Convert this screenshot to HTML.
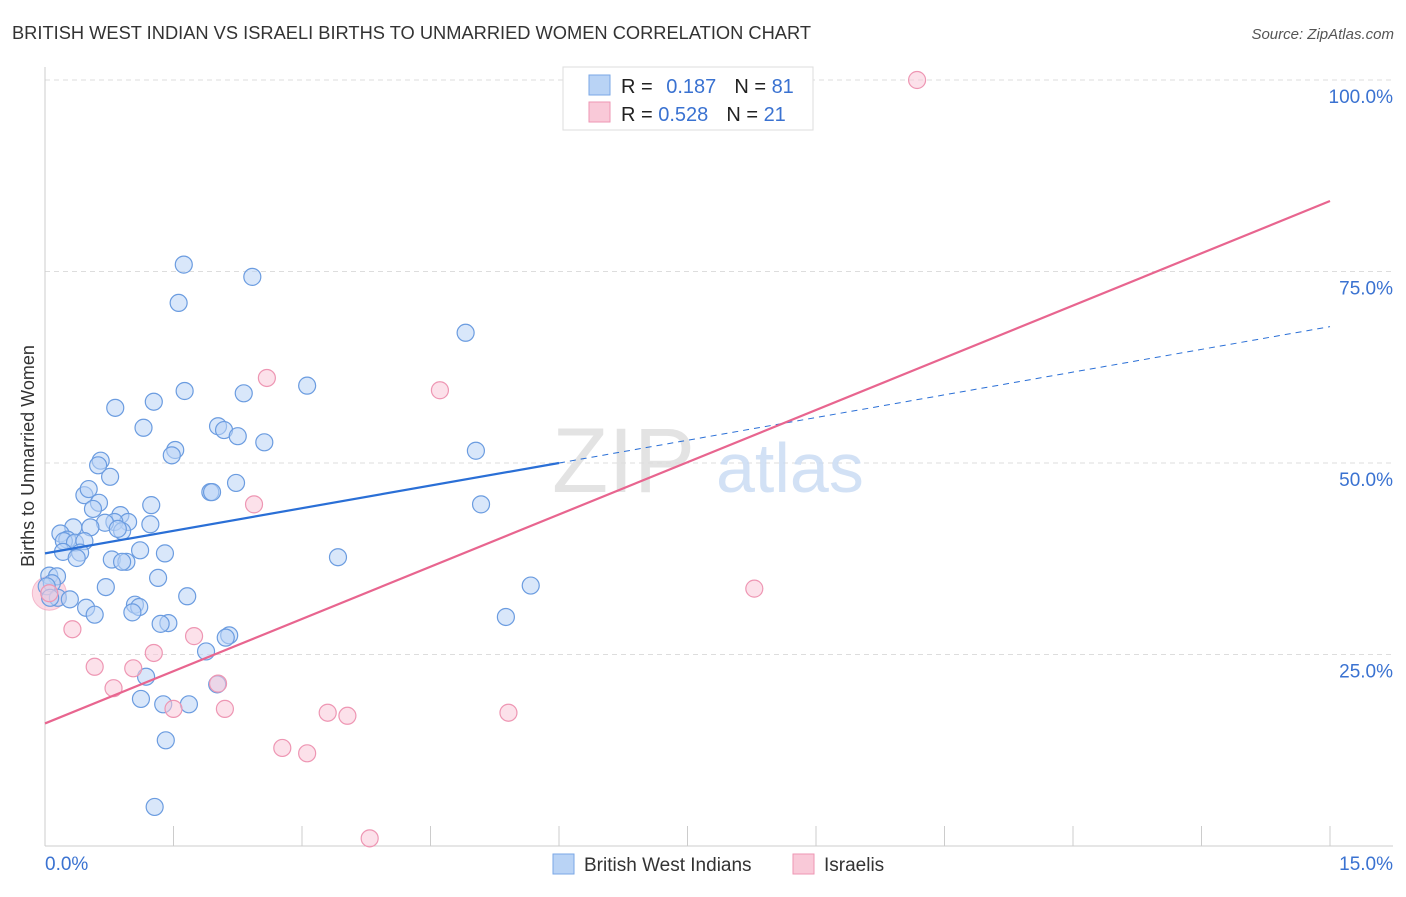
<!DOCTYPE html>
<html><head><meta charset="utf-8"><style>
body{margin:0;background:#fff;font-family:"Liberation Sans",sans-serif;}
svg text{font-family:"Liberation Sans",sans-serif;}
</style></head><body>
<svg id="chart" width="1406" height="892" xmlns="http://www.w3.org/2000/svg">
<text x="12" y="39" font-size="18.3" fill="#333" textLength="799" lengthAdjust="spacingAndGlyphs">BRITISH WEST INDIAN VS ISRAELI BIRTHS TO UNMARRIED WOMEN CORRELATION CHART</text>
<text x="1394" y="39" font-size="15" fill="#555" font-style="italic" text-anchor="end">Source: ZipAtlas.com</text>
<text transform="translate(34,456) rotate(-90)" font-size="18" fill="#333" text-anchor="middle">Births to Unmarried Women</text>
<g id="grid"></g>
<text x="552" y="492" font-size="92" fill="#ddd" font-family="Liberation Serif" opacity="0.8">ZIP</text>
<text x="716" y="492" font-size="70" fill="#c8daf3" opacity="0.8">atlas</text>
<g id="points"></g>
<g id="lines"></g>
<g>
<rect x="563" y="67" width="250" height="63" fill="#fff" stroke="#ddd"/>
<rect x="589" y="75" width="21" height="20" fill="#b9d3f5" stroke="#7aa7e6"/>
<rect x="589" y="102" width="21" height="20" fill="#f9c9d8" stroke="#ee96b3"/>
<text x="621" y="93" font-size="20" fill="#222">R = <tspan fill="#3a72d1" dx="8">0.187</tspan><tspan fill="#222" dx="18">N = </tspan><tspan fill="#3a72d1">81</tspan></text>
<text x="621" y="121" font-size="20" fill="#222">R = <tspan fill="#3a72d1">0.528</tspan><tspan fill="#222" dx="18">N = </tspan><tspan fill="#3a72d1">21</tspan></text>
</g>
<g>
<rect x="553" y="854" width="21" height="20" fill="#b9d3f5" stroke="#7aa7e6"/>
<text x="584" y="871" font-size="19" fill="#333">British West Indians</text>
<rect x="793" y="854" width="21" height="20" fill="#f9c9d8" stroke="#ee96b3"/>
<text x="824" y="871" font-size="19" fill="#333">Israelis</text>
</g>
</svg>
<script>
const xTicks=[0,1.5,3,4.5,6,7.5,9,10.5,12,13.5,15];
const yTicks=[25,50,75,100];
const blueX=[1.62,2.42,1.56,4.91,3.06,1.63,2.32,0.82,1.27,1.15,2.02,2.09,2.25,2.56,1.52,1.48,5.03,0.65,0.62,0.76,2.23,1.93,1.95,0.46,0.51,0.63,0.56,1.24,5.09,0.88,0.97,0.81,0.7,1.23,0.33,0.53,0.18,0.9,0.85,0.26,0.22,0.35,0.46,1.11,0.21,0.41,1.4,0.37,0.78,0.95,0.9,3.42,0.05,0.14,1.32,0.08,0.02,0.71,5.67,1.66,0.15,0.29,0.06,1.05,0.48,1.1,1.02,0.58,5.38,1.44,1.35,2.15,2.11,1.88,1.18,2.01,1.68,1.12,1.38,1.41,1.28];
const blueY=[75.9,74.3,70.9,67,60.1,59.4,59.1,57.2,58,54.6,54.8,54.3,53.5,52.7,51.7,51,51.6,50.3,49.7,48.2,47.4,46.2,46.2,45.8,46.6,44.8,44,44.5,44.6,43.2,42.3,42.3,42.2,42,41.6,41.6,40.8,41.1,41.4,40,39.8,39.6,39.8,38.6,38.4,38.3,38.2,37.6,37.4,37.1,37.1,37.7,35.3,35.2,35,34.3,33.9,33.8,34,32.6,32.4,32.2,32.4,31.5,31.1,31.2,30.5,30.2,29.9,29.1,29,27.5,27.2,25.4,22.1,21.1,18.5,19.2,18.5,13.8,5.1];
const pinkX=[10.18,2.59,4.61,2.44,8.28,0.05,0.32,1.74,1.27,0.58,1.03,0.8,2.02,1.5,2.1,3.3,3.53,5.41,2.77,3.06,3.79];
const pinkY=[100,61.1,59.5,44.6,33.6,33,28.3,27.4,25.2,23.4,23.2,20.6,21.2,17.9,17.9,17.4,17,17.4,12.8,12.1,1.0];
const blueLine=[[0,38.2],[6,50]];const blueDash=[[6,50],[15,67.8]];
const pinkLine=[[0,16],[15,84.2]];
const X=v=>45+v/15*1285, Y=v=>846-v/100*766;
const NS="http://www.w3.org/2000/svg";
const mk=(t,a,p)=>{const e=document.createElementNS(NS,t);for(const k in a)e.setAttribute(k,a[k]);p.appendChild(e);return e;};
const g=document.getElementById('grid');
yTicks.forEach(t=>{
 const l=mk('line',{x1:45,x2:1393,y1:Y(t),y2:Y(t),stroke:'#ddd','stroke-dasharray':'5,4'},g);
 
 
 const tx=mk('text',{x:1393,y:Y(t)+23,'font-size':19,fill:'#3a72d1','text-anchor':'end'},g);
 tx.textContent=t.toFixed(1)+'%';
 
 
});
const ax=mk('line',{x1:45,x2:45,y1:67,y2:846,stroke:'#ccc'},g);


const bx=mk('line',{x1:45,x2:1393,y1:846,y2:846,stroke:'#ccc'},g);


xTicks.forEach(t=>{
 const l=mk('line',{x1:X(t),x2:X(t),y1:826,y2:846,stroke:'#ccc'},g);
 
 
});
[[0,'start'],[15,'end']].forEach(([t,a])=>{
 const tx=mk('text',{x:t==0?45:1393,y:870,'font-size':19,fill:'#3a72d1','text-anchor':a},g);
 tx.textContent=t.toFixed(1)+'%';
 
 
});
const p=document.getElementById('points');
const big=mk('circle',{cx:X(0.05),cy:Y(33),r:17,fill:'#f9c9d8','fill-opacity':0.7,stroke:'#ee96b3','stroke-opacity':0.6},p);


blueX.forEach((v,i)=>{
 const c=mk('circle',{cx:X(v),cy:Y(blueY[i]),r:8.5,fill:'#b9d3f5','fill-opacity':0.55,stroke:'#6b9ce0','stroke-width':1.2},p);
 
 
});
pinkX.forEach((v,i)=>{
 const c=mk('circle',{cx:X(v),cy:Y(pinkY[i]),r:8.5,fill:'#f9c9d8','fill-opacity':0.55,stroke:'#ee96b3','stroke-width':1.2},p);
 
 
});
const L=document.getElementById('lines');
const bl=mk('line',{x1:X(blueLine[0][0]),y1:Y(blueLine[0][1]),x2:X(blueLine[1][0]),y2:Y(blueLine[1][1]),stroke:'#2a6fd6','stroke-width':2.2},L);


const bd=mk('line',{x1:X(blueDash[0][0]),y1:Y(blueDash[0][1]),x2:X(blueDash[1][0]),y2:Y(blueDash[1][1]),stroke:'#2a6fd6','stroke-width':1,'stroke-dasharray':'6,5'},L);


const pl=mk('line',{x1:X(pinkLine[0][0]),y1:Y(pinkLine[0][1]),x2:X(pinkLine[1][0]),y2:Y(pinkLine[1][1]),stroke:'#e8658f','stroke-width':2.2},L);


</script>
</body></html>
